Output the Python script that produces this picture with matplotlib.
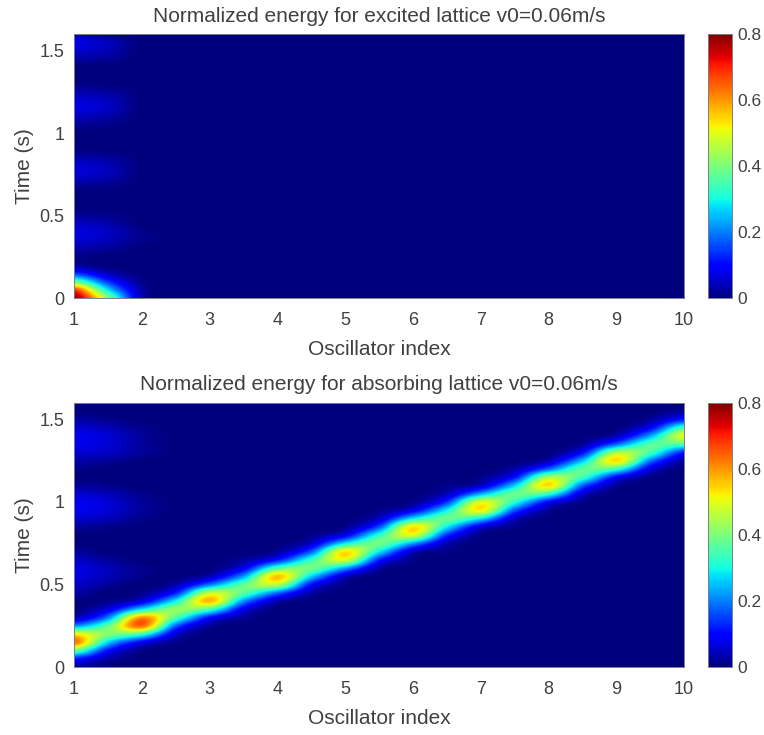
# Normalized energy maps for the excited and absorbing lattice
import numpy as np
import matplotlib
matplotlib.use("Agg")
import matplotlib.pyplot as plt

W, H = 764, 735

# oscillator positions (half steps) and time samples of the tables below
osc = [1, 1.5, 2, 2.5, 3, 3.5, 4, 4.5, 5, 5.5, 6, 6.5, 7, 7.5, 8, 8.5, 9, 9.5, 10]
time = [0, .05, .1, .15, .2, .25, .3, .35, .4, .45, .5, .55, .6, .65, .7, .75, .8,
        .85, .9, .95, 1, 1.05, 1.1, 1.15, 1.2, 1.25, 1.3, 1.35, 1.4, 1.45, 1.5, 1.55, 1.6]

# energy in hundredths, one row per time sample
excited = [
    [80, 42, 4, 0, 0, 0, 0, 0, 0, 0, 0, 0, 0, 0, 0, 0, 0, 0, 0],
    [68, 28, 3, 0, 0, 0, 0, 0, 0, 0, 0, 0, 0, 0, 0, 0, 0, 0, 0],
    [38, 14, 1, 0, 0, 0, 0, 0, 0, 0, 0, 0, 0, 0, 0, 0, 0, 0, 0],
    [14, 4, 0, 0, 0, 0, 0, 0, 0, 0, 0, 0, 0, 0, 0, 0, 0, 0, 0],
    [2, 0, 0, 0, 0, 0, 0, 0, 0, 0, 0, 0, 0, 0, 0, 0, 0, 0, 0],
    [1, 0, 0, 0, 0, 0, 0, 0, 0, 0, 0, 0, 0, 0, 0, 0, 0, 0, 0],
    [3, 2, 0, 0, 0, 0, 0, 0, 0, 0, 0, 0, 0, 0, 0, 0, 0, 0, 0],
    [6, 4, 1, 0, 0, 0, 0, 0, 0, 0, 0, 0, 0, 0, 0, 0, 0, 0, 0],
    [7, 5, 1, 0, 0, 0, 0, 0, 0, 0, 0, 0, 0, 0, 0, 0, 0, 0, 0],
    [5, 3, 0, 0, 0, 0, 0, 0, 0, 0, 0, 0, 0, 0, 0, 0, 0, 0, 0],
    [2, 1, 0, 0, 0, 0, 0, 0, 0, 0, 0, 0, 0, 0, 0, 0, 0, 0, 0],
    [0, 0, 0, 0, 0, 0, 0, 0, 0, 0, 0, 0, 0, 0, 0, 0, 0, 0, 0],
    [0, 0, 0, 0, 0, 0, 0, 0, 0, 0, 0, 0, 0, 0, 0, 0, 0, 0, 0],
    [0, 0, 0, 0, 0, 0, 0, 0, 0, 0, 0, 0, 0, 0, 0, 0, 0, 0, 0],
    [3, 2, 0, 0, 0, 0, 0, 0, 0, 0, 0, 0, 0, 0, 0, 0, 0, 0, 0],
    [6, 4, 0, 0, 0, 0, 0, 0, 0, 0, 0, 0, 0, 0, 0, 0, 0, 0, 0],
    [6, 4, 0, 0, 0, 0, 0, 0, 0, 0, 0, 0, 0, 0, 0, 0, 0, 0, 0],
    [3, 2, 0, 0, 0, 0, 0, 0, 0, 0, 0, 0, 0, 0, 0, 0, 0, 0, 0],
    [0, 0, 0, 0, 0, 0, 0, 0, 0, 0, 0, 0, 0, 0, 0, 0, 0, 0, 0],
    [0, 0, 0, 0, 0, 0, 0, 0, 0, 0, 0, 0, 0, 0, 0, 0, 0, 0, 0],
    [0, 0, 0, 0, 0, 0, 0, 0, 0, 0, 0, 0, 0, 0, 0, 0, 0, 0, 0],
    [2, 1, 0, 0, 0, 0, 0, 0, 0, 0, 0, 0, 0, 0, 0, 0, 0, 0, 0],
    [5, 3, 0, 0, 0, 0, 0, 0, 0, 0, 0, 0, 0, 0, 0, 0, 0, 0, 0],
    [7, 5, 0, 0, 0, 0, 0, 0, 0, 0, 0, 0, 0, 0, 0, 0, 0, 0, 0],
    [6, 4, 0, 0, 0, 0, 0, 0, 0, 0, 0, 0, 0, 0, 0, 0, 0, 0, 0],
    [3, 2, 0, 0, 0, 0, 0, 0, 0, 0, 0, 0, 0, 0, 0, 0, 0, 0, 0],
    [0, 0, 0, 0, 0, 0, 0, 0, 0, 0, 0, 0, 0, 0, 0, 0, 0, 0, 0],
    [0, 0, 0, 0, 0, 0, 0, 0, 0, 0, 0, 0, 0, 0, 0, 0, 0, 0, 0],
    [0, 0, 0, 0, 0, 0, 0, 0, 0, 0, 0, 0, 0, 0, 0, 0, 0, 0, 0],
    [3, 2, 0, 0, 0, 0, 0, 0, 0, 0, 0, 0, 0, 0, 0, 0, 0, 0, 0],
    [6, 4, 0, 0, 0, 0, 0, 0, 0, 0, 0, 0, 0, 0, 0, 0, 0, 0, 0],
    [7, 4, 0, 0, 0, 0, 0, 0, 0, 0, 0, 0, 0, 0, 0, 0, 0, 0, 0],
    [4, 1, 0, 0, 0, 0, 0, 0, 0, 0, 0, 0, 0, 0, 0, 0, 0, 0, 0],
]

absorbing = [
    [2, 0, 0, 0, 0, 0, 0, 0, 0, 0, 0, 0, 0, 0, 0, 0, 0, 0, 0],
    [12, 3, 0, 0, 0, 0, 0, 0, 0, 0, 0, 0, 0, 0, 0, 0, 0, 0, 0],
    [39, 11, 1, 0, 0, 0, 0, 0, 0, 0, 0, 0, 0, 0, 0, 0, 0, 0, 0],
    [64, 27, 9, 1, 0, 0, 0, 0, 0, 0, 0, 0, 0, 0, 0, 0, 0, 0, 0],
    [52, 41, 34, 6, 0, 0, 0, 0, 0, 0, 0, 0, 0, 0, 0, 0, 0, 0, 0],
    [21, 37, 64, 18, 2, 0, 0, 0, 0, 0, 0, 0, 0, 0, 0, 0, 0, 0, 0],
    [4, 20, 60, 36, 11, 2, 0, 0, 0, 0, 0, 0, 0, 0, 0, 0, 0, 0, 0],
    [0, 7, 28, 42, 35, 8, 0, 0, 0, 0, 0, 0, 0, 0, 0, 0, 0, 0, 0],
    [0, 1, 7, 29, 57, 22, 4, 0, 0, 0, 0, 0, 0, 0, 0, 0, 0, 0, 0],
    [3, 0, 1, 12, 46, 37, 19, 3, 0, 0, 0, 0, 0, 0, 0, 0, 0, 0, 0],
    [5, 2, 0, 3, 19, 37, 46, 11, 1, 0, 0, 0, 0, 0, 0, 0, 0, 0, 0],
    [7, 4, 1, 0, 4, 22, 56, 27, 5, 0, 0, 0, 0, 0, 0, 0, 0, 0, 0],
    [7, 4, 1, 0, 0, 8, 35, 39, 23, 3, 0, 0, 0, 0, 0, 0, 0, 0, 0],
    [5, 2, 0, 0, 0, 2, 11, 33, 49, 13, 1, 0, 0, 0, 0, 0, 0, 0, 0],
    [2, 0, 0, 0, 0, 0, 2, 17, 53, 29, 5, 1, 0, 0, 0, 0, 0, 0, 0],
    [0, 0, 0, 0, 0, 0, 0, 5, 28, 39, 23, 4, 0, 0, 0, 0, 0, 0, 0],
    [0, 0, 0, 0, 0, 0, 0, 1, 8, 32, 49, 14, 1, 0, 0, 0, 0, 0, 0],
    [2, 1, 0, 0, 0, 0, 0, 0, 1, 16, 53, 29, 7, 1, 0, 0, 0, 0, 0],
    [6, 4, 1, 0, 0, 0, 0, 0, 0, 5, 28, 38, 28, 5, 0, 0, 0, 0, 0],
    [8, 6, 2, 0, 0, 0, 0, 0, 0, 1, 8, 29, 52, 17, 2, 0, 0, 0, 0],
    [8, 6, 2, 0, 0, 0, 0, 0, 0, 0, 1, 14, 49, 32, 10, 1, 0, 0, 0],
    [6, 4, 1, 0, 0, 0, 0, 0, 0, 0, 0, 4, 23, 38, 33, 6, 0, 0, 0],
    [2, 1, 0, 0, 0, 0, 0, 0, 0, 0, 0, 1, 5, 26, 54, 18, 2, 0, 0],
    [0, 0, 0, 0, 0, 0, 0, 0, 0, 0, 0, 0, 1, 11, 44, 34, 10, 1, 0],
    [1, 0, 0, 0, 0, 0, 0, 0, 0, 0, 0, 0, 0, 3, 18, 37, 33, 7, 0],
    [3, 2, 0, 0, 0, 0, 0, 0, 0, 0, 0, 0, 0, 0, 4, 25, 54, 20, 2],
    [6, 5, 2, 0, 0, 0, 0, 0, 0, 0, 0, 0, 0, 0, 0, 10, 44, 35, 12],
    [8, 6, 2, 0, 0, 0, 0, 0, 0, 0, 0, 0, 0, 0, 0, 2, 18, 36, 35],
    [8, 6, 2, 0, 0, 0, 0, 0, 0, 0, 0, 0, 0, 0, 0, 0, 4, 23, 50],
    [6, 4, 1, 0, 0, 0, 0, 0, 0, 0, 0, 0, 0, 0, 0, 0, 0, 9, 35],
    [3, 1, 0, 0, 0, 0, 0, 0, 0, 0, 0, 0, 0, 0, 0, 0, 0, 2, 12],
    [0, 0, 0, 0, 0, 0, 0, 0, 0, 0, 0, 0, 0, 0, 0, 0, 0, 0, 2],
    [0, 0, 0, 0, 0, 0, 0, 0, 0, 0, 0, 0, 0, 0, 0, 0, 0, 0, 0],
]

titles = ['Normalized energy for excited lattice v0=0.06m/s',
          'Normalized energy for absorbing lattice v0=0.06m/s']
x_ticks = [1, 2, 3, 4, 5, 6, 7, 8, 9, 10]
y_ticks = [0, 0.5, 1, 1.5]
y_labels = ['0', '0.5', '1', '1.5']
cb_ticks = [0, 0.2, 0.4, 0.6, 0.8]
cb_labels = ['0', '0.2', '0.4', '0.6', '0.8']

plt.rcParams['font.family'] = ['Liberation Sans', 'DejaVu Sans']
TEXT = '#404040'
EDGE = '#7a7f86'


def px_axes(fig, left, top, right, bottom):
    return fig.add_axes([left / W, 1 - bottom / H, (right - left) / W, (bottom - top) / H])


def draw_panel(fig, table, title, top, bottom):
    ax = px_axes(fig, 74, top, 684, bottom)
    data = np.array(table) / 100
    dx = (osc[1] - osc[0]) / 2
    dy = (time[1] - time[0]) / 2
    im = ax.imshow(data, origin='lower', aspect='auto', cmap='jet', vmin=0, vmax=0.8,
                   interpolation='catrom',
                   extent=(osc[0] - dx, osc[-1] + dx, time[0] - dy, time[-1] + dy))
    ax.set_xlim(1, 10)
    ax.set_ylim(0, 1.6)
    ax.set_xticks(x_ticks)
    ax.set_yticks(y_ticks, y_labels)
    ax.tick_params(axis='x', labelsize=13, colors=TEXT, length=0, pad=10)
    ax.tick_params(axis='y', labelsize=13, colors=TEXT, length=0, pad=7)
    ax.set_xlabel('Oscillator index', fontsize=15, color=TEXT, labelpad=8)
    ax.set_ylabel('Time (s)', fontsize=15, color=TEXT, labelpad=4)
    ax.set_title(title, fontsize=15, color=TEXT, pad=9)
    for s in ax.spines.values():
        s.set_color(EDGE)
        s.set_linewidth(0.7)

    cax = px_axes(fig, 708, top, 732, bottom)
    cb = fig.colorbar(im, cax=cax)
    cb.set_ticks(cb_ticks, labels=cb_labels)
    cb.ax.tick_params(labelsize=12.5, colors=TEXT, length=0, pad=4)
    cb.outline.set_edgecolor(EDGE)
    cb.outline.set_linewidth(0.7)


fig = plt.figure(figsize=(W / 100, H / 100), dpi=100)
draw_panel(fig, excited, titles[0], 34, 298)
draw_panel(fig, absorbing, titles[1], 403, 667)
fig.savefig('out.png', dpi=100)
